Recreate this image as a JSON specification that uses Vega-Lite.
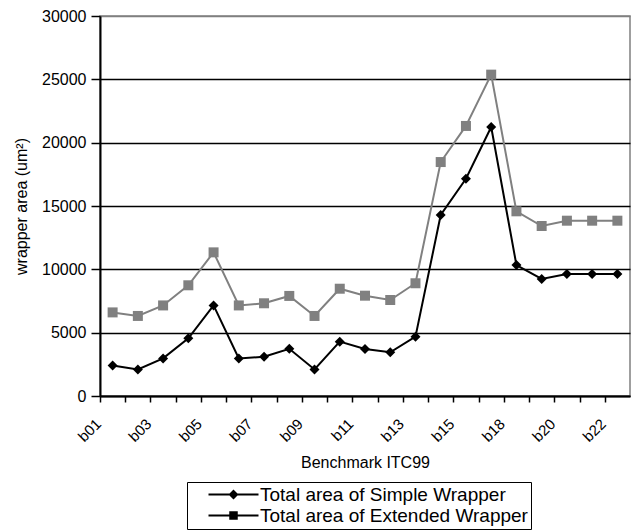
{
  "$schema": "https://vega.github.io/schema/vega-lite/v6.json",
  "width": 530,
  "height": 380,
  "autosize": {"type": "none"},
  "padding": {"left": 100, "top": 16, "right": 2, "bottom": 134},
  "background": "white",
  "config": {
    "font": "Liberation Sans",
    "view": {"stroke": "#808080", "strokeWidth": 1.5}
  },
  "data": {
    "values": [
      {"bench": "b01", "series": "Total area of Simple Wrapper", "area": 2400},
      {"bench": "b02", "series": "Total area of Simple Wrapper", "area": 2100},
      {"bench": "b03", "series": "Total area of Simple Wrapper", "area": 2970},
      {"bench": "b04", "series": "Total area of Simple Wrapper", "area": 4550},
      {"bench": "b05", "series": "Total area of Simple Wrapper", "area": 7150},
      {"bench": "b06", "series": "Total area of Simple Wrapper", "area": 2970},
      {"bench": "b07", "series": "Total area of Simple Wrapper", "area": 3100},
      {"bench": "b08", "series": "Total area of Simple Wrapper", "area": 3730},
      {"bench": "b09", "series": "Total area of Simple Wrapper", "area": 2100},
      {"bench": "b10", "series": "Total area of Simple Wrapper", "area": 4290},
      {"bench": "b11", "series": "Total area of Simple Wrapper", "area": 3710},
      {"bench": "b12", "series": "Total area of Simple Wrapper", "area": 3450},
      {"bench": "b13", "series": "Total area of Simple Wrapper", "area": 4680},
      {"bench": "b14", "series": "Total area of Simple Wrapper", "area": 14290},
      {"bench": "b15", "series": "Total area of Simple Wrapper", "area": 17150},
      {"bench": "b17", "series": "Total area of Simple Wrapper", "area": 21240},
      {"bench": "b18", "series": "Total area of Simple Wrapper", "area": 10340},
      {"bench": "b19", "series": "Total area of Simple Wrapper", "area": 9240},
      {"bench": "b20", "series": "Total area of Simple Wrapper", "area": 9630},
      {"bench": "b21", "series": "Total area of Simple Wrapper", "area": 9630},
      {"bench": "b22", "series": "Total area of Simple Wrapper", "area": 9630},
      {"bench": "b01", "series": "Total area of Extended Wrapper", "area": 6600},
      {"bench": "b02", "series": "Total area of Extended Wrapper", "area": 6320},
      {"bench": "b03", "series": "Total area of Extended Wrapper", "area": 7150},
      {"bench": "b04", "series": "Total area of Extended Wrapper", "area": 8740},
      {"bench": "b05", "series": "Total area of Extended Wrapper", "area": 11340},
      {"bench": "b06", "series": "Total area of Extended Wrapper", "area": 7150},
      {"bench": "b07", "series": "Total area of Extended Wrapper", "area": 7320},
      {"bench": "b08", "series": "Total area of Extended Wrapper", "area": 7900},
      {"bench": "b09", "series": "Total area of Extended Wrapper", "area": 6320},
      {"bench": "b10", "series": "Total area of Extended Wrapper", "area": 8470},
      {"bench": "b11", "series": "Total area of Extended Wrapper", "area": 7920},
      {"bench": "b12", "series": "Total area of Extended Wrapper", "area": 7580},
      {"bench": "b13", "series": "Total area of Extended Wrapper", "area": 8900},
      {"bench": "b14", "series": "Total area of Extended Wrapper", "area": 18470},
      {"bench": "b15", "series": "Total area of Extended Wrapper", "area": 21320},
      {"bench": "b17", "series": "Total area of Extended Wrapper", "area": 25370},
      {"bench": "b18", "series": "Total area of Extended Wrapper", "area": 14580},
      {"bench": "b19", "series": "Total area of Extended Wrapper", "area": 13420},
      {"bench": "b20", "series": "Total area of Extended Wrapper", "area": 13840},
      {"bench": "b21", "series": "Total area of Extended Wrapper", "area": 13840},
      {"bench": "b22", "series": "Total area of Extended Wrapper", "area": 13840}
    ]
  },
  "encoding": {
    "x": {
      "field": "bench",
      "type": "nominal",
      "sort": null,
      "scale": {"type": "point", "padding": 0.5},
      "axis": {
        "title": "Benchmark ITC99",
        "labelAngle": -45,
        "labelAlign": "right",
        "labelBaseline": "middle",
        "labelExpr": "indexof(['b01','b03','b05','b07','b09','b11','b13','b15','b18','b20','b22'], datum.value) >= 0 ? datum.value : ''",
        "labelOverlap": false,
        "labelBound": false,
        "tickOffset": -12.62,
        "labelOffset": -2,
        "domainColor": "black",
        "domainWidth": 2,
        "tickColor": "black",
        "tickWidth": 1.5,
        "tickSize": 6,
        "labelPadding": 19,
        "labelFontSize": 15,
        "labelColor": "black",
        "titleFontSize": 16,
        "titleFontWeight": "normal",
        "titleColor": "black",
        "titleY": 66,
        "titleBaseline": "middle",
        "grid": false
      }
    },
    "y": {
      "field": "area",
      "type": "quantitative",
      "scale": {"domain": [0, 30000]},
      "axis": {
        "title": "wrapper area (um²)",
        "values": [0, 5000, 10000, 15000, 20000, 25000, 30000],
        "format": "d",
        "domainColor": "black",
        "domainWidth": 2,
        "tickColor": "black",
        "tickWidth": 1.5,
        "tickSize": 9,
        "labelPadding": 5,
        "labelFontSize": 16,
        "labelColor": "black",
        "grid": true,
        "gridColor": {"condition": {"test": "datum.value === 30000", "value": "#808080"}, "value": "black"},
        "gridWidth": 1.5,
        "titleFontSize": 16,
        "titleFontWeight": "normal",
        "titleColor": "black",
        "titleX": -79,
        "titleY": 190,
        "titleBaseline": "middle"
      }
    }
  },
  "layer": [
    {
      "mark": {"type": "line", "strokeWidth": 2},
      "encoding": {
        "stroke": {
          "field": "series",
          "type": "nominal",
          "scale": {"domain": ["Total area of Simple Wrapper", "Total area of Extended Wrapper"], "range": ["#000000", "#808080"]},
          "legend": null
        }
      }
    },
    {
      "mark": {"type": "point", "filled": true, "opacity": 1, "size": 100},
      "encoding": {
        "fill": {
          "field": "series",
          "type": "nominal",
          "scale": {"domain": ["Total area of Simple Wrapper", "Total area of Extended Wrapper"], "range": ["#000000", "#808080"]},
          "legend": null
        },
        "shape": {
          "field": "series",
          "type": "nominal",
          "scale": {"domain": ["Total area of Simple Wrapper", "Total area of Extended Wrapper"], "range": ["diamond", "square"]},
          "legend": null
        }
      }
    },
    {
      "transform": [{"filter": "datum.area < 0"}],
      "mark": {"type": "point", "filled": true, "opacity": 1, "size": 100},
      "encoding": {
        "color": {
          "field": "series",
          "type": "nominal",
          "scale": {"domain": ["Total area of Simple Wrapper", "Total area of Extended Wrapper"], "range": ["#000000", "#808080"]},
          "legend": null
        },
        "shape": {
          "field": "series",
          "type": "nominal",
          "scale": {"domain": ["Total area of Simple Wrapper", "Total area of Extended Wrapper"], "range": ["M-5,-0.2H5V0.2H-5ZM0,-1L1,0L0,1L-1,0Z", "M-5,-0.2H5V0.2H-5ZM-0.85,-0.85H0.85V0.85H-0.85Z"]},
          "legend": {
            "orient": "none",
            "legendX": 87,
            "legendY": 466,
            "direction": "vertical",
            "title": null,
            "strokeColor": "black",
            "padding": 3,
            "symbolSize": 100,
            "symbolOffset": 34,
            "labelOffset": 17,
            "labelFontSize": 19,
            "labelLimit": 0,
            "labelColor": "black",
            "rowPadding": 1,
            "encode": {"symbols": {"update": {"fill": {"signal": "datum.value === 'Total area of Extended Wrapper' ? '#808080' : '#000000'"}, "stroke": {"value": "transparent"}}}}
          }
        }
      }
    }
  ],
  "resolve": {"scale": {"shape": "independent"}}
}
